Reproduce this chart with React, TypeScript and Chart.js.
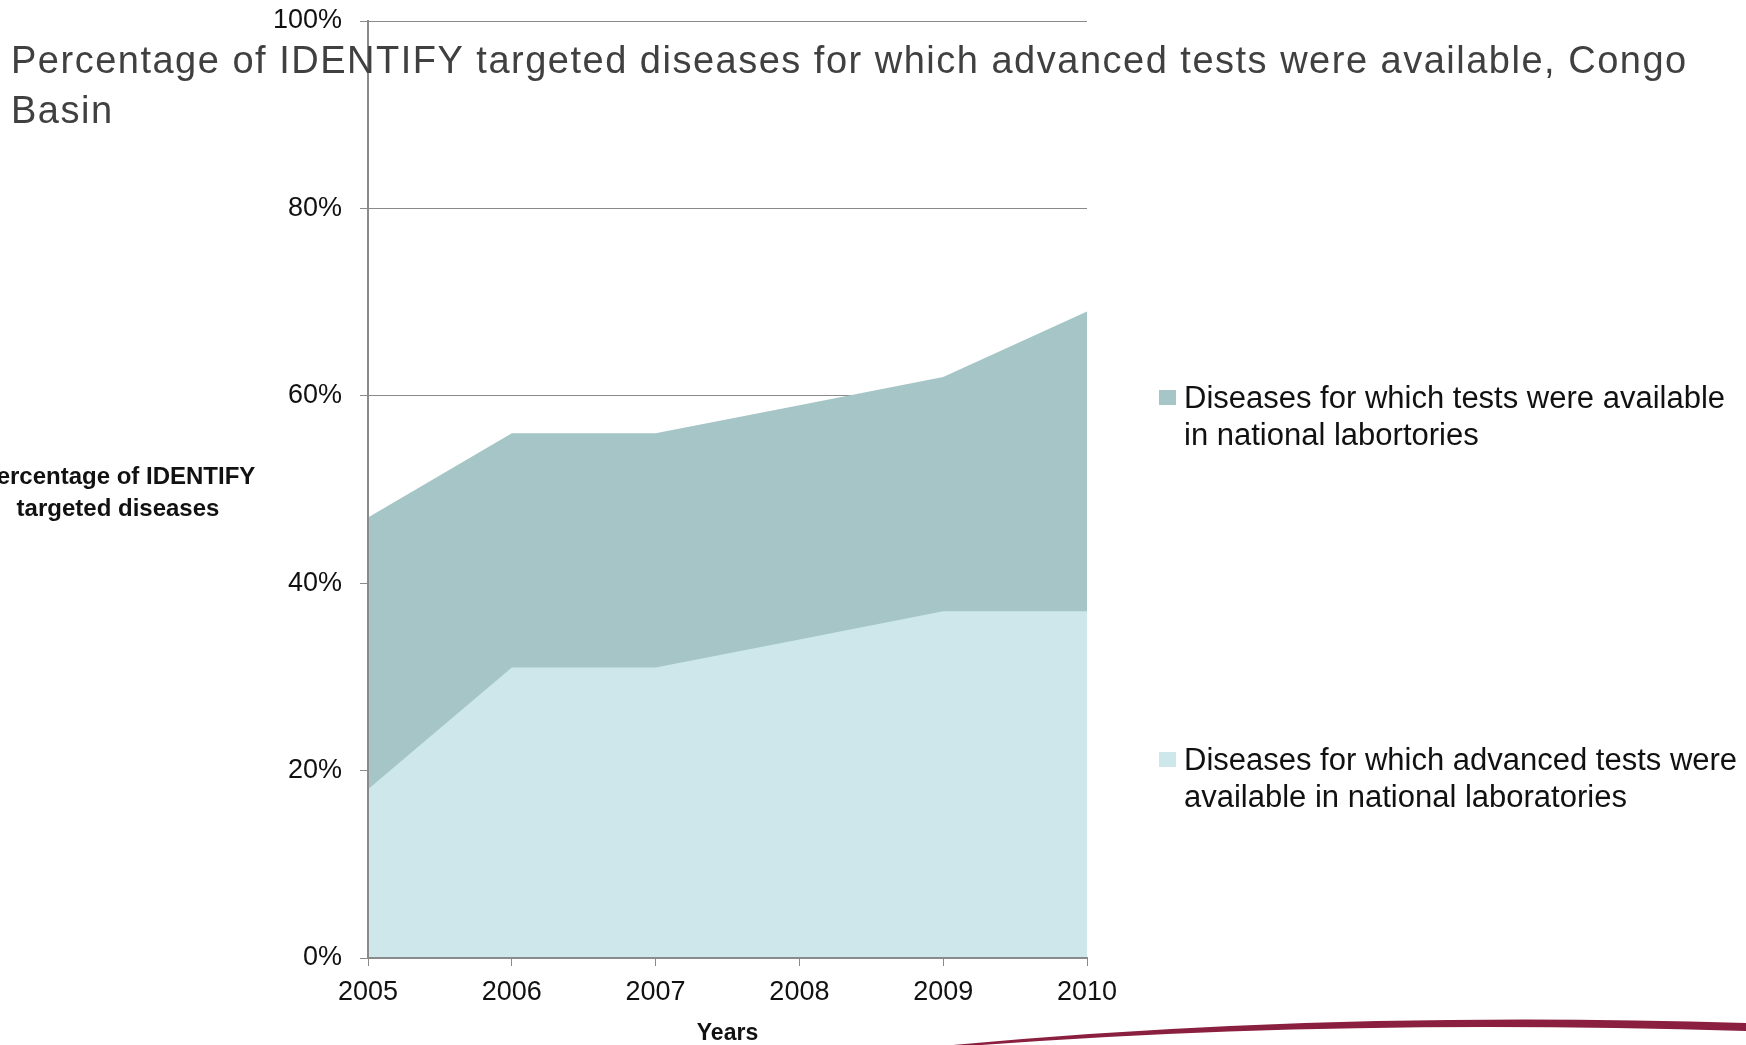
import React, { useEffect, useRef } from "react";
import { Chart, registerables } from "chart.js";

Chart.register(...registerables);

const years = ["2005", "2006", "2007", "2008", "2009", "2010"];
const testsAvailable = [47, 56, 56, 59, 62, 69];
const advancedTests = [18, 31, 31, 34, 37, 37];
const yTicks = [0, 20, 40, 60, 80, 100];

const titleLines = [
  "Percentage of IDENTIFY targeted diseases for which advanced tests were available, Congo",
  "Basin",
];
const yTitleLines = ["Percentage of IDENTIFY", "targeted diseases"];
const xTitle = "Years";
const legendLines = [
  ["Diseases for which tests were available", "in national labortories"],
  ["Diseases for which advanced tests were", "available in national laboratories"],
];

const DARK = "#A5C5C7";
const LIGHT = "#CDE7EA";
const AXIS = "#8A8A8A";
const FONT = "'Liberation Sans', Arial, sans-serif";

const decorPlugin = {
  id: "decor",
  afterDraw(chart: any) {
    const ctx = chart.ctx as CanvasRenderingContext2D;
    ctx.save();

    // Title
    ctx.fillStyle = "#404040";
    ctx.font = `38px ${FONT}`;
    (ctx as any).letterSpacing = "1.5px";
    ctx.textAlign = "left";
    ctx.textBaseline = "alphabetic";
    ctx.fillText(titleLines[0], 11, 73);
    ctx.fillText(titleLines[1], 11, 123);
    (ctx as any).letterSpacing = "0px";

    // Y axis title (horizontal, two lines)
    ctx.fillStyle = "#111";
    ctx.font = `bold 24px ${FONT}`;
    ctx.textAlign = "center";
    ctx.fillText(yTitleLines[0], 118, 484);
    ctx.fillText(yTitleLines[1], 118, 516);

    // Legend
    const ds = chart.data.datasets;
    const items = [
      { color: ds[0].backgroundColor, lines: legendLines[0], y: 408 },
      { color: ds[1].backgroundColor, lines: legendLines[1], y: 770 },
    ];
    ctx.font = `31px ${FONT}`;
    ctx.textAlign = "left";
    for (const it of items) {
      ctx.fillStyle = it.color;
      ctx.fillRect(1159, it.y - 18, 17, 15);
      ctx.fillStyle = "#111";
      ctx.fillText(it.lines[0], 1184, it.y);
      ctx.fillText(it.lines[1], 1184, it.y + 37);
    }

    // Decorative swoosh
    ctx.fillStyle = "#8A1F3F";
    ctx.beginPath();
    ctx.moveTo(953, 1045);
    ctx.quadraticCurveTo(1330, 1010, 1746, 1023);
    ctx.lineTo(1746, 1031);
    ctx.quadraticCurveTo(1330, 1018, 968, 1046);
    ctx.closePath();
    ctx.fill();

    ctx.restore();
  },
};

export default function App() {
  const ref = useRef<HTMLCanvasElement | null>(null);

  useEffect(() => {
    if (!ref.current) return;
    const chart = new Chart(ref.current, {
      type: "line",
      data: {
        labels: years,
        datasets: [
          {
            label: legendLines[0].join(" "),
            data: testsAvailable,
            backgroundColor: DARK,
            borderColor: DARK,
            borderWidth: 0,
            pointRadius: 0,
            fill: "origin",
            tension: 0,
            order: 1,
          },
          {
            label: legendLines[1].join(" "),
            data: advancedTests,
            backgroundColor: LIGHT,
            borderColor: LIGHT,
            borderWidth: 0,
            pointRadius: 0,
            fill: "origin",
            tension: 0,
            order: 0,
          },
        ],
      },
      options: {
        animation: false,
        responsive: false,
        maintainAspectRatio: false,
        devicePixelRatio: 1,
        layout: { padding: { left: 0, top: 21, right: 659, bottom: 0 } },
        plugins: {
          legend: { display: false },
          title: { display: false },
          tooltip: { enabled: false },
        },
        scales: {
          x: {
            type: "category",
            offset: false,
            grid: {
              drawOnChartArea: false,
              drawTicks: true,
              tickLength: 8,
              color: AXIS,
              lineWidth: 1,
            },
            border: { color: AXIS, width: 2, z: 1 },
            ticks: {
              font: { family: FONT, size: 27 },
              color: "#111",
              padding: 10,
              maxRotation: 0,
              autoSkip: false,
            },
            title: {
              display: true,
              text: xTitle,
              font: { family: FONT, size: 23, weight: "bold" },
              color: "#111",
              padding: { top: 0, bottom: -2 },
            },
            afterFit: (s: any) => {
              s.height = 87;
              s.paddingLeft = 0;
              s.paddingRight = 0;
            },
          },
          y: {
            min: 0,
            max: 100,
            afterBuildTicks: (s: any) => {
              s.ticks = yTicks.map((v) => ({ value: v }));
            },
            ticks: {
              font: { family: FONT, size: 27 },
              color: "#111",
              padding: 18,
              callback: (v: any) => `${v}%`,
            },
            grid: { color: AXIS, lineWidth: 1, tickLength: 8 },
            border: { color: AXIS, width: 2, z: 1 },
            afterFit: (s: any) => {
              s.width = 368;
              s.paddingTop = 0;
              s.paddingBottom = 0;
            },
          },
        },
      },
      plugins: [decorPlugin],
    });
    return () => chart.destroy();
  }, []);

  return (
    <div style={{ position: "fixed", left: 0, top: 0, width: 1746, height: 1045, background: "#fff" }}>
      <canvas ref={ref} width={1746} height={1045} style={{ width: 1746, height: 1045, display: "block" }} />
    </div>
  );
}
